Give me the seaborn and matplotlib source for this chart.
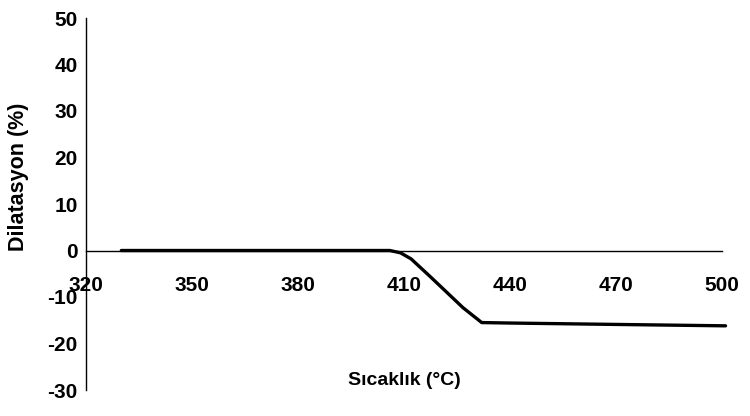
import numpy as np
import pandas as pd
import seaborn as sns
import matplotlib.pyplot as plt

# Sicaklik (C) vs dilatasyon (%), okunan degerler
temperature = [330, 406, 409, 412, 417.4, 426.7, 432, 440, 470, 501]
dilatation = [0, 0, -0.5, -1.8, -5.6, -12.3, -15.5, -15.6, -15.9, -16.2]

xTicks = [320, 350, 380, 410, 440, 470, 500]
yTicks = [-30, -20, -10, 0, 10, 20, 30, 40, 50]

df = pd.DataFrame({"temp": temperature, "dil": dilatation})

sns.set_style("white")
plt.rcParams["font.family"] = ["Liberation Sans", "DejaVu Sans"]
plt.rcParams["axes.unicode_minus"] = False

fig = plt.figure(figsize=(7.5, 4.16), dpi=100)
ax = fig.add_axes([86 / 750, 1 - 390 / 416, (722 - 86) / 750, (390 - 18) / 416])

sns.lineplot(data=df, x="temp", y="dil", color="black", linewidth=2.4, ax=ax, clip_on=False)

ax.set_xlim(320, 500)
ax.set_ylim(-30, 50)
ax.set_xticks(xTicks)
ax.set_yticks(yTicks)

# eksenler
ax.spines["bottom"].set_position(("data", 0))
ax.spines["top"].set_visible(False)
ax.spines["right"].set_visible(False)
for s in ["left", "bottom"]:
    ax.spines[s].set_color("black")
    ax.spines[s].set_linewidth(1.0)

ax.tick_params(axis="x", direction="inout", length=9, width=1, pad=14, labelsize=15, colors="black")
ax.tick_params(axis="y", length=0, pad=6, labelsize=15, colors="black")
for lab in ax.get_xticklabels() + ax.get_yticklabels():
    lab.set_fontweight("bold")

ax.set_xlabel("Sıcaklık (°C)", fontsize=14, fontweight="bold", color="black")
ax.set_ylabel("Dilatasyon (%)", fontsize=15.5, fontweight="bold", color="black")
ax.xaxis.set_label_coords((404 - 86) / 636, (390 - 372) / 372)
ax.yaxis.set_label_coords(-(86 - 29) / 636, (390 - 177) / 372)

plt.savefig("out.png", dpi=100)
plt.close()
